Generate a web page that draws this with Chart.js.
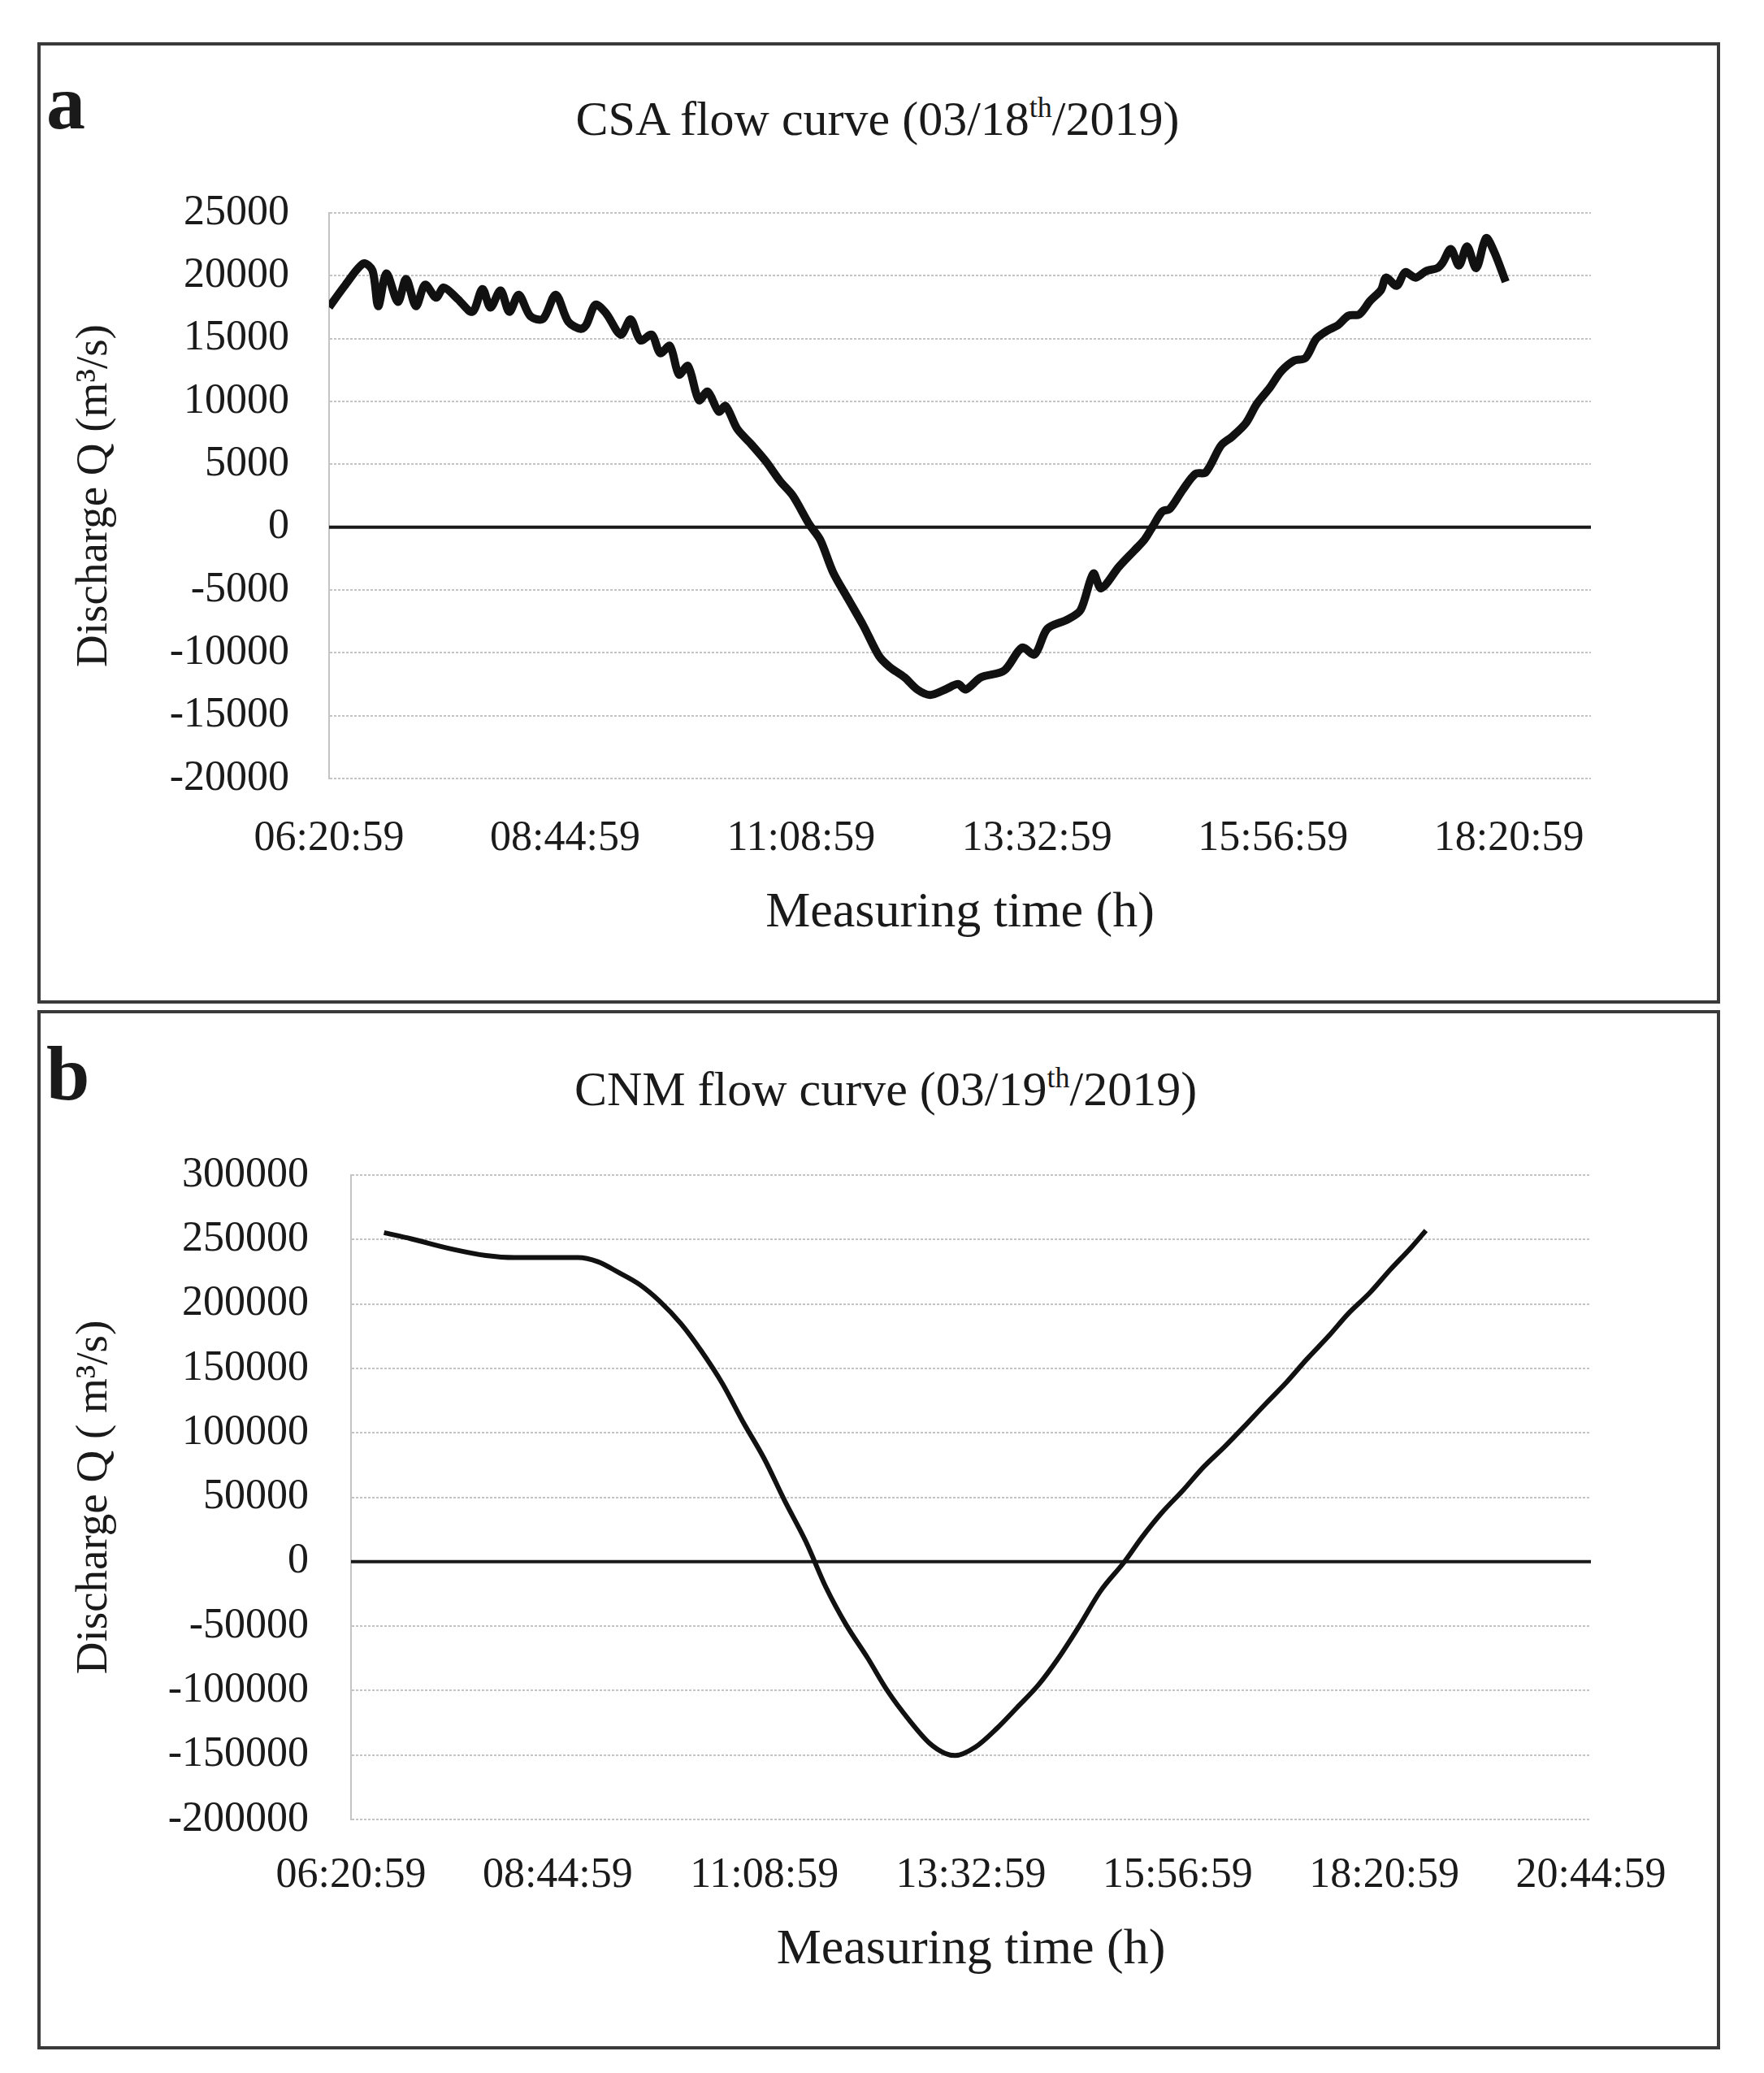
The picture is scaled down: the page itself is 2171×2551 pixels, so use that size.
<!DOCTYPE html>
<html>
<head>
<meta charset="utf-8">
<script src="https://cdn.jsdelivr.net/npm/chart.js@4.4.1/dist/chart.umd.min.js"></script>
<style>
    body { margin: 0; background: #fff; }
    #page { position: relative; width: 2171px; height: 2551px; font-family: "Liberation Serif", serif; color: #1a1a1a; }
    .panel { position: absolute; left: 46px; width: 2071px; border: 4px solid #3a3a3a; box-sizing: border-box; }
    .title { position: absolute; transform: translate(-50%, -50%); font-size: 60px; white-space: nowrap; }
    .title sup { font-size: 0.6em; vertical-align: 0.6em; line-height: 0; }
    .tag { position: absolute; left: 57px; font-size: 96px; font-weight: bold; line-height: 1; }
    canvas { position: absolute; left: 0; }
</style>
</head>
<body>
<div id="page">
    <div class="panel" style="top:52px;height:1183px"></div>
    <div class="panel" style="top:1243px;height:1279px"></div>
    <div class="tag" style="top:78px">a</div>
    <div class="tag" style="top:1273px">b</div>
    <div class="title" style="left:1080px;top:146px">CSA flow curve (03/18<sup>th</sup>/2019)</div>
    <div class="title" style="left:1090px;top:1340px">CNM flow curve (03/19<sup>th</sup>/2019)</div>
    <canvas id="csaChart" width="2171" height="1240" style="top:0"></canvas>
    <canvas id="cnmChart" width="2171" height="1311" style="top:1240px"></canvas>
</div>
<script>
const startTime = '06:20:59';

const csaTickLabels = ['06:20:59', '08:44:59', '11:08:59', '13:32:59', '15:56:59', '18:20:59'];
const cnmTickLabels = ['06:20:59', '08:44:59', '11:08:59', '13:32:59', '15:56:59', '18:20:59', '20:44:59'];

// minutes after 06:20:59
const csaMinutes = [
    0, 10, 21, 26.5, 30, 35, 42, 47, 53, 58.6, 65.3, 70, 78.5, 87.4, 93.6, 98.5,
    104.6, 110, 115.7, 122.8, 130.5, 138.3, 146, 153.8, 157, 162.6, 169, 178, 184, 190,
    197, 202, 208, 213.5, 219, 225.7, 231, 237.8, 242, 249, 257.7, 266.6, 275.4, 283, 293,
    299.7, 307.5, 316.8, 326.2, 335.5, 341.8, 351.1, 358.9, 366.7, 376, 383.8, 388.5,
    397.8, 411.9, 422.8, 430.6, 438.3, 450.8, 458.6, 466.4, 471.1, 482, 491.3, 497.5,
    502.2, 508.4, 513.1, 520.9, 528.7, 534.9, 544.3, 551, 559.4, 566, 574, 580.9, 589,
    595.8, 602.4, 609, 615.6, 622, 628.7, 635.3, 641.9, 645, 651.5, 656.6, 663, 669.6,
    676.3, 679.5, 684.5, 689.5, 694.4, 700, 706, 711, 718
];
const csaDischarge = [
    17500, 19280, 20980, 20420, 17580, 20190, 17920, 19740, 17580, 19280, 18260, 19060, 18150, 17130, 18940, 17470,
    18830, 17130, 18490, 16790, 16560, 18490, 16330, 15770, 16110, 17700, 17020, 15310, 16520, 14860,
    15310, 13840, 14410, 12140, 12820, 10100, 10780, 9190, 9640, 7830, 6580, 5220, 3630, 2500, 230,
    -1010, -3580, -5730, -7880, -10240, -11100, -11950, -12920, -13350, -12920, -12490, -12920,
    -11950, -11420, -9590, -10130, -8090, -7340, -6590, -3690, -4870, -3150, -1870, -1010,
    -40, 1240, 1460, 2960, 4250, 4350, 6500, 7190, 8270, 9780, 11080, 12380, 13250,
    13460, 14980, 15630, 16060, 16820, 16930, 18010, 18870, 19850, 19200, 20280, 19850, 20390,
    20610, 21040, 22120, 20820, 22340, 20610, 22990, 21900, 19520
];

const cnmMinutes = [
    23, 42, 71, 94, 114, 143, 158, 172, 186, 201, 215, 230, 244, 259, 273, 288, 302, 317,
    331, 345, 360, 374, 389, 403, 414, 421, 435, 450, 464, 479, 493, 508, 522, 539, 551,
    565, 580, 594, 609, 623, 638, 652, 666, 681, 695, 710, 724, 739, 749
];
const cnmDischarge = [
    255300, 250500, 242400, 237600, 236000, 236000, 236000, 232800, 224700, 215100, 202200, 184500,
    163600, 137800, 108800, 79800, 47700, 15500, -20000, -48900, -74700, -100500, -123000, -140700,
    -148700, -150400, -143900, -129400, -113300, -95600, -74700, -48900, -23200, 0, 18700,
    38000, 55700, 73400, 89500, 105600, 123300, 139400, 157100, 174800, 192600, 208700, 226400, 244100, 257000
];

function toMinutes(label) {
    const [h, m, s] = label.split(':').map(Number);
    const [h0, m0, s0] = startTime.split(':').map(Number);
    return ((h * 3600 + m * 60 + s) - (h0 * 3600 + m0 * 60 + s0)) / 60;
}

// solid black line at Q = 0
const zeroLine = {
    id: 'zeroLine',
    beforeDatasetsDraw(chart) {
        const { ctx, chartArea, scales } = chart;
        const y = scales.y.getPixelForValue(0);
        ctx.save();
        ctx.strokeStyle = '#1a1a1a';
        ctx.lineWidth = 4;
        ctx.beginPath();
        ctx.moveTo(chartArea.left, y);
        ctx.lineTo(chartArea.right, y);
        ctx.stroke();
        ctx.restore();
    }
};

function drawFlowChart(id, minutes, discharge, cfg) {
    const font = 'Liberation Serif';
    new Chart(document.getElementById(id), {
        type: 'line',
        data: {
            datasets: [{
                data: minutes.map((m, i) => ({ x: m, y: discharge[i] })),
                borderColor: '#111',
                borderWidth: cfg.lineWidth,
                pointRadius: 0,
                tension: cfg.tension,
                cubicInterpolationMode: cfg.monotone ? 'monotone' : 'default'
            }]
        },
        options: {
            responsive: false,
            animation: false,
            devicePixelRatio: 1,
            layout: { padding: { left: 84, right: 213, top: cfg.top, bottom: cfg.bottom } },
            plugins: { legend: { display: false }, tooltip: { enabled: false } },
            scales: {
                x: {
                    type: 'linear',
                    min: 0,
                    max: cfg.xMax,
                    grid: { display: false },
                    border: { display: false },
                    afterBuildTicks: s => { s.ticks = cfg.tickLabels.map(l => ({ value: toMinutes(l) })); },
                    afterFit: s => { s.height = cfg.xHeight; },
                    ticks: {
                        autoSkip: false,
                        maxRotation: 0,
                        padding: cfg.xPad,
                        color: '#1a1a1a',
                        font: { family: font, size: 52 },
                        callback: (v, i) => cfg.tickLabels[i]
                    },
                    title: {
                        display: true,
                        text: 'Measuring time (h)',
                        color: '#1a1a1a',
                        padding: 0,
                        font: { family: font, size: 62 }
                    }
                },
                y: {
                    min: cfg.yMin,
                    max: cfg.yMax,
                    afterFit: s => { s.width = cfg.yWidth; },
                    grid: { color: '#c4c4c4', lineWidth: 2, drawTicks: false },
                    border: { display: true, color: '#c4c4c4', width: 2, dash: [3, 2] },
                    ticks: {
                        stepSize: cfg.yStep,
                        padding: cfg.yPad,
                        color: '#1a1a1a',
                        font: { family: font, size: 52 },
                        callback: v => String(v)
                    },
                    title: {
                        display: true,
                        text: cfg.yTitle,
                        color: '#1a1a1a',
                        padding: 0,
                        font: { family: font, size: 55 }
                    }
                }
            }
        },
        plugins: [zeroLine]
    });
}

drawFlowChart('csaChart', csaMinutes, csaDischarge, {
    tickLabels: csaTickLabels, xMax: 770, yMin: -20000, yMax: 25000, yStep: 5000,
    yTitle: 'Discharge Q (m³/s)', lineWidth: 10, tension: 0.3, monotone: false,
    top: 262, bottom: 79, xHeight: 203, yWidth: 321, xPad: 35, yPad: 49
});

drawFlowChart('cnmChart', cnmMinutes, cnmDischarge, {
    tickLabels: cnmTickLabels, xMax: 864, yMin: -200000, yMax: 300000, yStep: 50000,
    yTitle: 'Discharge Q ( m³/s)', lineWidth: 6, tension: 0, monotone: true,
    top: 206, bottom: 114, xHeight: 198, yWidth: 348, xPad: 30, yPad: 52
});
</script>
</body>
</html>
